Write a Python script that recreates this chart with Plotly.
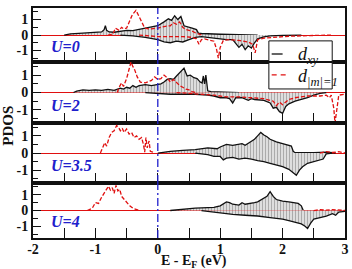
import plotly.graph_objects as go
from plotly.subplots import make_subplots

# ---------------- data (E - E_F in eV, PDOS) ----------------
u_labels = ["U=0", "U=2", "U=3.5", "U=4"]

# U = 0
dxy_up_e0 = [-1.5, -1.4, -1.2, -1.0, -0.9, -0.86, -0.84, -0.82, -0.78, -0.7, -0.6, -0.5, -0.4, -0.3, -0.2, -0.1, 0, 0.1, 0.17, 0.22, 0.27, 0.32, 0.37, 0.42, 0.48, 0.55, 0.62, 0.65, 0.7, 0.8, 1.0, 1.6]
dxy_up_v0 = [0, 0.08, 0.12, 0.15, 0.2, 0.35, 0.6, 0.3, 0.2, 0.18, 0.22, 0.3, 0.28, 0.35, 0.45, 0.5, 0.6, 0.85, 1.05, 0.95, 1.25, 1.0, 1.2, 0.6, 0.55, 0.45, 0.35, 0.12, 0.1, 0.08, 0.05, 0.0]
dxy_dn_e0 = [-0.6, -0.4, -0.2, 0, 0.1, 0.2, 0.3, 0.4, 0.5, 0.6, 0.7, 0.8, 0.9, 1.0, 1.1, 1.2, 1.25, 1.3, 1.35, 1.4, 1.45, 1.5, 1.55, 1.6, 1.7, 1.8, 2.0, 2.3]
dxy_dn_v0 = [0, -0.05, -0.15, -0.3, -0.45, -0.5, -0.4, -0.45, -0.3, -0.15, -0.1, -0.15, -0.2, -0.25, -0.3, -0.3, -0.55, -0.8, -0.6, -0.95, -0.7, -0.85, -0.5, -0.25, -0.12, -0.06, -0.02, 0]
dm1_up_e0 = [-0.8, -0.72, -0.68, -0.62, -0.58, -0.55, -0.5, -0.45, -0.41, -0.38, -0.35, -0.3, -0.25, -0.21, -0.15, -0.1, 0, 0.1, 0.2, 0.25, 0.3, 0.35, 0.4, 0.45, 0.5, 0.55, 0.6, 0.65, 0.7]
dm1_up_v0 = [0, 0.05, 0.45, 0.3, 0.5, 0.4, 0.45, 0.9, 1.3, 1.45, 1.6, 1.2, 0.8, 0.45, 0.4, 0.4, 0.45, 0.55, 0.6, 0.8, 0.7, 0.85, 0.5, 0.35, 0.3, 0.25, 0.15, 0.05, 0]
dm1_dn_e0 = [-0.3, -0.1, 0, 0.2, 0.4, 0.55, 0.62, 0.66, 0.7, 0.75, 0.8, 0.9, 0.94, 0.97, 1.0, 1.05, 1.15, 1.3, 1.45, 1.52, 1.56, 1.6, 1.7, 1.9, 2.1, 2.5, 2.8]
dm1_dn_v0 = [0, -0.05, -0.1, -0.1, -0.1, -0.15, -0.25, -0.6, -0.3, -0.25, -0.3, -0.4, -0.9, -1.5, -0.8, -0.35, -0.3, -0.35, -0.45, -0.6, -1.15, -0.3, -0.2, -0.15, -0.08, -0.03, 0]

# U = 2
dxy_up_e2 = [-1.35, -1.3, -1.2, -1.1, -1.0, -0.9, -0.8, -0.7, -0.6, -0.55, -0.5, -0.45, -0.4, -0.35, -0.3, -0.2, -0.1, 0, 0.05, 0.1, 0.15, 0.2, 0.25, 0.3, 0.35, 0.42, 0.47, 0.52, 0.58, 0.63, 0.68, 0.71, 0.73, 0.75, 0.77, 0.8, 0.85, 1.0, 1.3]
dxy_up_v2 = [0, 0.08, 0.15, 0.12, 0.15, 0.12, 0.18, 0.12, 0.25, 0.2, 0.3, 0.25, 0.4, 0.3, 0.4, 0.45, 0.4, 0.45, 0.5, 0.6, 0.75, 0.8, 0.75, 0.95, 1.15, 1.4, 0.95, 1.0, 0.85, 0.8, 0.6, 0.55, 0.95, 0.5, 1.0, 0.1, 0.05, 0.02, 0]
dxy_dn_e2 = [-0.2, 0, 0.2, 0.4, 0.6, 0.8, 0.9, 1.0, 1.1, 1.15, 1.2, 1.25, 1.35, 1.45, 1.5, 1.55, 1.7, 1.8, 1.85, 1.9, 1.95, 2.0, 2.05, 2.1, 2.2, 2.3, 2.4, 2.5, 2.6, 2.7]
dxy_dn_v2 = [0, -0.05, -0.1, -0.1, -0.1, -0.15, -0.2, -0.3, -0.3, -0.35, -0.6, -0.3, -0.3, -0.45, -0.35, -0.4, -0.45, -0.6, -0.9, -0.85, -1.1, -1.2, -0.8, -0.65, -0.5, -0.4, -0.3, -0.15, -0.05, 0]
dm1_up_e2 = [-0.65, -0.62, -0.58, -0.55, -0.5, -0.47, -0.43, -0.4, -0.37, -0.33, -0.28, -0.2, -0.1, -0.05, 0, 0.05, 0.1, 0.15, 0.2, 0.25, 0.3, 0.35, 0.4, 0.45, 0.5, 0.55, 0.6]
dm1_up_v2 = [0, 0.3, 0.55, 0.35, 0.8, 1.2, 1.75, 1.5, 1.3, 0.9, 0.6, 0.55, 0.7, 0.9, 0.75, 0.8, 1.0, 0.85, 0.6, 0.75, 0.55, 0.4, 0.3, 0.2, 0.15, 0.05, 0]
dm1_dn_e2 = [0.3, 0.5, 0.7, 0.9, 1.1, 1.3, 1.5, 1.7, 1.85, 1.9, 1.95, 2.0, 2.1, 2.2, 2.4, 2.5, 2.6, 2.7, 2.75, 2.78, 2.82, 2.84, 2.87, 2.9, 3.0]
dm1_dn_v2 = [0, -0.05, -0.1, -0.15, -0.25, -0.25, -0.3, -0.35, -0.5, -0.75, -0.55, -0.7, -0.4, -0.3, -0.2, -0.2, -0.2, -0.15, -0.3, -0.15, -0.9, -1.75, -0.8, -0.15, -0.1]

# U = 3.5
dxy_up_e3 = [0, 0.2, 0.4, 0.6, 0.8, 0.95, 1.0, 1.05, 1.1, 1.2, 1.3, 1.35, 1.4, 1.45, 1.5, 1.55, 1.6, 1.65, 1.7, 1.75, 1.8, 1.9, 2.0, 2.1, 2.14, 2.17, 2.2, 2.5, 2.7, 2.85]
dxy_up_v3 = [0, 0.1, 0.15, 0.2, 0.3, 0.25, 0.35, 0.45, 0.5, 0.45, 0.5, 0.55, 0.45, 0.55, 0.7, 0.8, 1.0, 1.2, 1.05, 0.95, 0.8, 0.65, 0.55, 0.45, 0.4, 0.1, 0.02, 0.02, 0.05, 0]
dxy_dn_e3 = [0.6, 0.7, 0.8, 0.9, 1.0, 1.05, 1.1, 1.2, 1.3, 1.4, 1.5, 1.6, 1.7, 1.8, 1.9, 2.0, 2.1, 2.15, 2.22, 2.27, 2.32, 2.4, 2.5, 2.6, 2.65, 2.7, 2.8]
dxy_dn_v3 = [0, -0.05, -0.1, -0.2, -0.2, -0.4, -0.3, -0.25, -0.35, -0.3, -0.35, -0.45, -0.5, -0.6, -0.7, -0.8, -0.95, -1.1, -1.3, -1.0, -0.8, -0.6, -0.5, -0.4, -0.35, -0.05, 0]
dm1_up_e3 = [-0.92, -0.88, -0.85, -0.82, -0.78, -0.74, -0.7, -0.66, -0.63, -0.6, -0.57, -0.54, -0.5, -0.46, -0.42, -0.38, -0.34, -0.3, -0.26, -0.23, -0.21, -0.19, -0.17, -0.14, -0.12, -0.08, -0.05]
dm1_up_v3 = [0, 0.3, 0.6, 0.4, 0.9, 1.2, 1.3, 1.6, 1.5, 1.3, 1.45, 1.2, 1.4, 1.1, 1.2, 0.9, 1.0, 0.8, 0.9, 0.5, 0.05, 0.9, 0.3, 0.7, 0.1, 0.05, 0]
dm1_tail_e3 = [2.6, 2.7, 2.8, 2.9, 3]
dm1_tail_v3 = [0, 0.08, 0.03, 0.08, 0]

# U = 4
dxy_up_e4 = [0.2, 0.4, 0.6, 0.8, 0.9, 1.0, 1.05, 1.1, 1.15, 1.2, 1.3, 1.35, 1.4, 1.5, 1.55, 1.6, 1.7, 1.75, 1.8, 1.85, 1.9, 2.0, 2.1, 2.2, 2.25, 2.3, 2.33]
dxy_up_v4 = [0, 0.08, 0.15, 0.18, 0.2, 0.3, 0.4, 0.55, 0.5, 0.4, 0.35, 0.5, 0.4, 0.45, 0.5, 0.55, 0.75, 0.9, 1.2, 0.9, 0.7, 0.6, 0.55, 0.5, 0.45, 0.3, 0.02]
dxy_dn_e4 = [0.7, 0.8, 0.9, 1.0, 1.1, 1.2, 1.4, 1.6, 1.8, 2.0, 2.1, 2.2, 2.3, 2.36, 2.4, 2.45, 2.5, 2.6, 2.7, 2.8, 2.85, 2.9, 3]
dxy_dn_v4 = [0, -0.05, -0.1, -0.15, -0.2, -0.25, -0.3, -0.35, -0.45, -0.55, -0.65, -0.75, -0.85, -1.0, -1.15, -0.8, -0.55, -0.45, -0.35, -0.2, -0.3, -0.1, -0.05]
dm1_up_e4 = [-1.13, -1.05, -1.0, -0.95, -0.9, -0.86, -0.82, -0.79, -0.76, -0.73, -0.7, -0.67, -0.64, -0.61, -0.58, -0.54, -0.5, -0.45, -0.4, -0.35, -0.3]
dm1_up_v4 = [0, 0.15, 0.5, 0.45, 0.85, 1.1, 1.3, 1.55, 1.3, 1.45, 1.1, 1.6, 1.25, 1.35, 0.9, 0.7, 0.5, 0.3, 0.15, 0.05, 0]
dm1_tail_e4 = [2.5, 2.6, 2.7, 2.8, 3]
dm1_tail_v4 = [0, 0.05, 0.02, 0.06, 0]

panels = [
    ([(dxy_up_e0, dxy_up_v0), (dxy_dn_e0, dxy_dn_v0)], [(dm1_up_e0, dm1_up_v0), (dm1_dn_e0, dm1_dn_v0)]),
    ([(dxy_up_e2, dxy_up_v2), (dxy_dn_e2, dxy_dn_v2)], [(dm1_up_e2, dm1_up_v2), (dm1_dn_e2, dm1_dn_v2)]),
    ([(dxy_up_e3, dxy_up_v3), (dxy_dn_e3, dxy_dn_v3)], [(dm1_up_e3, dm1_up_v3), (dm1_tail_e3, dm1_tail_v3)]),
    ([(dxy_up_e4, dxy_up_v4), (dxy_dn_e4, dxy_dn_v4)], [(dm1_up_e4, dm1_up_v4), (dm1_tail_e4, dm1_tail_v4)]),
]

x_ticks = [-2, -1, 0, 1, 2, 3]
y_ticks = [-1, 0, 1]

# ---------------- figure ----------------
SERIF = "Liberation Serif"
BLACK = "#111111"
RED = "#e01010"
BLUE = "#2020cc"

fig = make_subplots(rows=4, cols=1, shared_xaxes=True, vertical_spacing=0)

pattern = dict(shape="|", fgcolor="#777777", bgcolor="#dedede", size=3, solidity=0.35)

for i, (black_series, red_series) in enumerate(panels, start=1):
    for xe, yv in black_series:
        fig.add_trace(go.Scatter(x=xe, y=yv, mode="lines", fill="tozeroy",
                                 fillpattern=pattern, fillcolor="#dedede",
                                 line=dict(color=BLACK, width=1.3), showlegend=False,
                                 hoverinfo="skip"), row=i, col=1)
    for xe, yv in red_series:
        fig.add_trace(go.Scatter(x=xe, y=yv, mode="lines",
                                 line=dict(color=RED, width=1.3, dash="4px,2px"),
                                 showlegend=False, hoverinfo="skip"), row=i, col=1)

domains = [[0.765, 1.0], [0.5, 0.765], [0.239, 0.5], [0.0, 0.239]]

for i in range(1, 5):
    sfx = "" if i == 1 else str(i)
    fig.layout["yaxis" + sfx].update(
        domain=domains[i - 1], range=[-1.75, 1.75], tickvals=y_ticks,
        ticktext=[str(v) for v in y_ticks],
        ticks="inside", ticklen=8, tickwidth=1.3, tickcolor=BLACK,
        minor=dict(dtick=0.5, tick0=0, ticks="inside", ticklen=5, tickwidth=1.3, tickcolor=BLACK),
        showline=True, linewidth=2, linecolor=BLACK, mirror=True,
        showgrid=False, zeroline=True, zerolinecolor=RED, zerolinewidth=1.3,
        tickfont=dict(family=SERIF, size=14, color=BLACK, weight="bold"),
        fixedrange=True)
    fig.layout["xaxis" + sfx].update(
        range=[-2, 3], tickvals=x_ticks, ticktext=[str(v) for v in x_ticks],
        ticks="inside", ticklen=10, tickwidth=1.3, tickcolor=BLACK,
        minor=dict(dtick=0.5, tick0=0, ticks="inside", ticklen=10, tickwidth=1.3, tickcolor=BLACK),
        showline=True, linewidth=2, linecolor=BLACK, mirror=True,
        showgrid=False, zeroline=False,
        showticklabels=(i == 4), ticklabelstandoff=-3,
        tickfont=dict(family=SERIF, size=14, color=BLACK, weight="bold"),
        fixedrange=True)
    fig.add_annotation(x=-1.74, y=-0.72, xref="x" + sfx, yref="y" + sfx,
                       text="<b><i>" + u_labels[i - 1] + "</i></b>", showarrow=False,
                       xanchor="left", yanchor="middle",
                       font=dict(family=SERIF, size=16, color=BLUE))
    # Fermi level marker
    fig.add_shape(type="line", xref="x" + sfx, yref="y" + sfx + " domain",
                  x0=0, x1=0, y0=0, y1=1, layer="above",
                  line=dict(color=BLUE, width=1.3, dash="8px,3px,2px,3px"))

# legend box (drawn manually)
fig.add_shape(type="rect", xref="paper", yref="paper", x0=0.756, x1=0.959, y0=0.648, y1=0.857,
              fillcolor="white", line=dict(color=BLACK, width=1), layer="above")
fig.add_shape(type="line", xref="paper", yref="paper", x0=0.756, x1=0.959, y0=0.765, y1=0.765,
              line=dict(color=BLACK, width=2), layer="above")
fig.add_shape(type="line", xref="paper", yref="paper", x0=0.765, x1=0.80, y0=0.80, y1=0.80,
              line=dict(color=BLACK, width=1.3), layer="above")
fig.add_shape(type="line", xref="paper", yref="paper", x0=0.765, x1=0.81, y0=0.709, y1=0.709,
              line=dict(color=RED, width=1.3, dash="5px,4px"), layer="above")
fig.add_annotation(x=0.842, y=0.795, xref="paper", yref="paper", showarrow=False,
                   xanchor="left", yanchor="middle", text="<i>d<sub>xy</sub></i>",
                   font=dict(family=SERIF, size=18, color=BLACK))
fig.add_annotation(x=0.842, y=0.70, xref="paper", yref="paper", showarrow=False,
                   xanchor="left", yanchor="middle", text="<i>d<sub>|m|=1</sub></i>",
                   font=dict(family=SERIF, size=18, color=BLACK))

# axis titles
fig.add_annotation(x=-0.079, y=0.49, xref="paper", yref="paper", showarrow=False,
                   text="<b>PDOS</b>", textangle=-90, xanchor="center", yanchor="middle",
                   font=dict(family=SERIF, size=15, color=BLACK))
fig.add_annotation(x=0.516, y=-0.055, xref="paper", yref="paper", showarrow=False,
                   text="<b>E - E<sub>F</sub> (eV)</b>", xanchor="center", yanchor="top",
                   font=dict(family=SERIF, size=14, color=BLACK))

fig.update_layout(width=352, height=269, margin=dict(l=33, r=3, t=8, b=31),
                  plot_bgcolor="white", paper_bgcolor="white", showlegend=False)

fig.write_html("out.html", config={"displayModeBar": False})
